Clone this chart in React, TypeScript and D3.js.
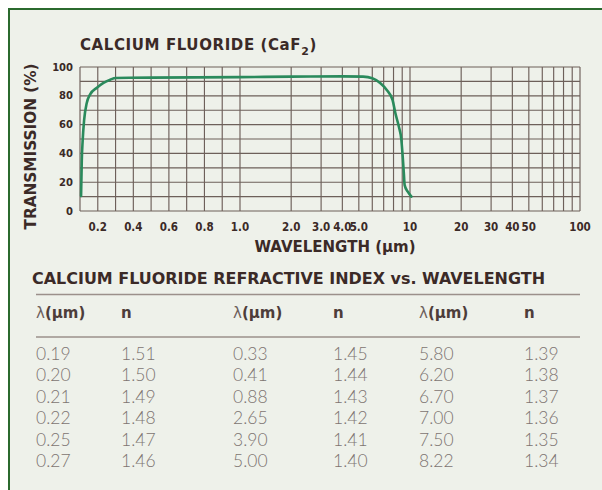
import { useRef, useEffect } from "react";
import * as d3 from "d3";

// transmission curve
const curveWavelength = [
  0.106, 0.11, 0.115, 0.123, 0.138, 0.157, 0.195, 0.232, 0.27, 0.3, 0.5, 1.0,
  2.0, 4.0, 5.3, 6.0, 6.7, 7.3, 7.9, 8.2, 8.6, 8.9, 9.06, 9.2, 9.3, 9.7, 10.2,
];
const curveTransmission = [
  10.5, 35, 49, 63, 75, 81, 85.6, 89, 91.2, 92.4, 92.6, 93, 93.3, 93.5, 93.3,
  92.2, 88.7, 84, 77, 68, 58.5, 49.3, 37.7, 26.2, 18, 13.4, 10,
];

const yTicks = [0, 20, 40, 60, 80, 100];
const xTickValues = [0.2, 0.4, 0.6, 0.8, 1, 2, 3, 4, 5, 10, 20, 30, 40, 50, 100];
const xTickLabels = ["0.2", "0.4", "0.6", "0.8", "1.0", "2.0", "3.0", "4.0", "5.0", "10", "20", "30", "40", "50", "100"];
const gridLinear = [0.1, 0.2, 0.3, 0.4, 0.5, 0.6, 0.7, 0.8, 0.9, 1.0];
const gridLog = [2, 3, 4, 5, 6, 7, 8, 9, 10, 20, 30, 40, 50, 60, 70, 80, 90, 100];

// refractive index table
const indexWavelength = [
  0.19, 0.2, 0.21, 0.22, 0.25, 0.27,
  0.33, 0.41, 0.88, 2.65, 3.9, 5.0,
  5.8, 6.2, 6.7, 7.0, 7.5, 8.22,
];
const indexValue = [
  1.51, 1.5, 1.49, 1.48, 1.47, 1.46,
  1.45, 1.44, 1.43, 1.42, 1.41, 1.4,
  1.39, 1.38, 1.37, 1.36, 1.35, 1.34,
];

const W = 602;
const H = 490;
const ink = "#3b2a27";
const bold = "'DejaVu Sans', sans-serif";

const App = () => {
  const svgRef = useRef<SVGSVGElement | null>(null);

  useEffect(() => {
    if (!svgRef.current) return;
    const svg = d3.select(svgRef.current);
    svg.selectAll("*").remove();

    // frame
    svg.append("rect").attr("width", W).attr("height", H).attr("fill", "#fff");
    svg.append("rect")
      .attr("x", 9).attr("y", 9).attr("width", 700).attr("height", 600)
      .attr("fill", "#eef1ea").attr("stroke", "#2b6a2e").attr("stroke-width", 2);

    // scales: linear below 1 µm, log above
    const left = 80, split = 240, right = 580, top = 67, bottom = 211;
    const xLin = d3.scaleLinear().domain([0.1, 1]).range([left, split]);
    const xLog = d3.scaleLog().domain([1, 100]).range([split, right]);
    const x = (v: number) => (v <= 1 ? xLin(v) : xLog(v));
    const y = d3.scaleLinear().domain([0, 100]).range([bottom, top]);

    const g = svg.append("g");

    // grid
    const grid = g.append("g").attr("stroke", "#4e3c37").attr("stroke-width", 1.15).attr("opacity", 0.8);
    grid.selectAll("line.v")
      .data([...gridLinear, ...gridLog])
      .enter().append("line")
      .attr("x1", (d) => x(d)).attr("x2", (d) => x(d))
      .attr("y1", y(0)).attr("y2", y(100));
    grid.selectAll("line.h")
      .data(d3.range(0, 101, 10))
      .enter().append("line")
      .attr("x1", left).attr("x2", right)
      .attr("y1", (d) => y(d)).attr("y2", (d) => y(d));

    // y tick labels
    g.selectAll("text.yt")
      .data(yTicks)
      .enter().append("text")
      .attr("x", 73).attr("y", (d) => y(d) + 3.5)
      .attr("text-anchor", "end")
      .style("font-family", bold).style("font-weight", "bold").style("font-size", "10px")
      .style("fill", ink)
      .text((d) => d);

    // x tick labels
    g.selectAll("text.xt")
      .data(xTickValues)
      .enter().append("text")
      .attr("x", (d) => x(d)).attr("y", 230.5)
      .attr("text-anchor", "middle")
      .style("font-family", "'Liberation Sans Narrow', 'DejaVu Sans Condensed', sans-serif")
      .style("font-weight", "bold").style("font-size", "11.5px")
      .style("fill", ink)
      .text((d, i) => xTickLabels[i]);

    // transmission curve
    const pts = curveWavelength.map((w, i) => [x(w), y(curveTransmission[i])] as [number, number]);
    g.append("path")
      .attr("d", d3.line().curve(d3.curveMonotoneX)(pts))
      .attr("fill", "none").attr("stroke", "#2a8a5c").attr("stroke-width", 2.6)
      .attr("stroke-linejoin", "round").attr("stroke-linecap", "round");

    // titles
    const title = svg.append("text")
      .attr("x", 80).attr("y", 50)
      .style("font-family", bold).style("font-weight", "bold").style("font-size", "15px")
      .style("letter-spacing", "0.6px").style("fill", ink);
    title.append("tspan").text("CALCIUM FLUORIDE (CaF");
    title.append("tspan").attr("dy", 5).style("font-size", "11px").text("2");
    title.append("tspan").attr("dy", -5).text(")");

    svg.append("text")
      .attr("transform", "translate(36,146.5) rotate(-90)")
      .attr("text-anchor", "middle")
      .attr("textLength", 166).attr("lengthAdjust", "spacingAndGlyphs")
      .style("font-family", bold).style("font-weight", "bold").style("font-size", "15px")
      .style("fill", ink)
      .text("TRANSMISSION (%)");

    svg.append("text")
      .attr("x", 335).attr("y", 252)
      .attr("text-anchor", "middle")
      .style("font-family", bold).style("font-weight", "bold").style("font-size", "15px")
      .style("fill", ink)
      .text("WAVELENGTH (µm)");

    // table
    svg.append("text")
      .attr("x", 32).attr("y", 284)
      .attr("textLength", 513).attr("lengthAdjust", "spacingAndGlyphs")
      .style("font-family", bold).style("font-weight", "bold").style("font-size", "15.5px")
      .style("fill", ink)
      .text("CALCIUM FLUORIDE REFRACTIVE INDEX vs. WAVELENGTH");

    svg.selectAll("line.rule")
      .data([294.5, 337])
      .enter().append("line")
      .attr("x1", 36).attr("x2", 580)
      .attr("y1", (d) => d).attr("y2", (d) => d)
      .attr("stroke", "#9b908b").attr("stroke-width", 1.6);

    const colX = [36, 121, 233, 333, 419, 524];
    const rowY = (i: number) => 360 + i * 21.4;

    [0, 1, 2].forEach((c) => {
      const hl = svg.append("text")
        .attr("x", colX[c * 2]).attr("y", 318)
        .style("font-family", bold).style("font-size", "15px").style("fill", "#4d3d3a");
      hl.append("tspan").style("font-weight", "normal").style("fill", "#6d605c").text("λ");
      hl.append("tspan").style("font-weight", "bold").text("(µm)");
      svg.append("text")
        .attr("x", colX[c * 2 + 1]).attr("y", 318)
        .style("font-family", bold).style("font-weight", "bold").style("font-size", "15px")
        .style("fill", "#4d3d3a")
        .text("n");

      const rows = d3.range(6).map((r) => c * 6 + r);
      svg.selectAll(`text.w${c}`)
        .data(rows)
        .enter().append("text")
        .attr("x", colX[c * 2]).attr("y", (d, i) => rowY(i))
        .style("font-family", "Lato, sans-serif").style("font-weight", 300).style("font-size", "17.5px")
        .style("fill", "#7d7471")
        .text((d) => indexWavelength[d].toFixed(2));
      svg.selectAll(`text.n${c}`)
        .data(rows)
        .enter().append("text")
        .attr("x", colX[c * 2 + 1]).attr("y", (d, i) => rowY(i))
        .style("font-family", "Lato, sans-serif").style("font-weight", 300).style("font-size", "17.5px")
        .style("fill", "#7d7471")
        .text((d) => indexValue[d].toFixed(2));
    });
  }, []);

  return (
    <svg
      ref={svgRef}
      width={W}
      height={H}
      style={{ position: "absolute", left: 0, top: 0, display: "block" }}
    />
  );
};

export default App;
